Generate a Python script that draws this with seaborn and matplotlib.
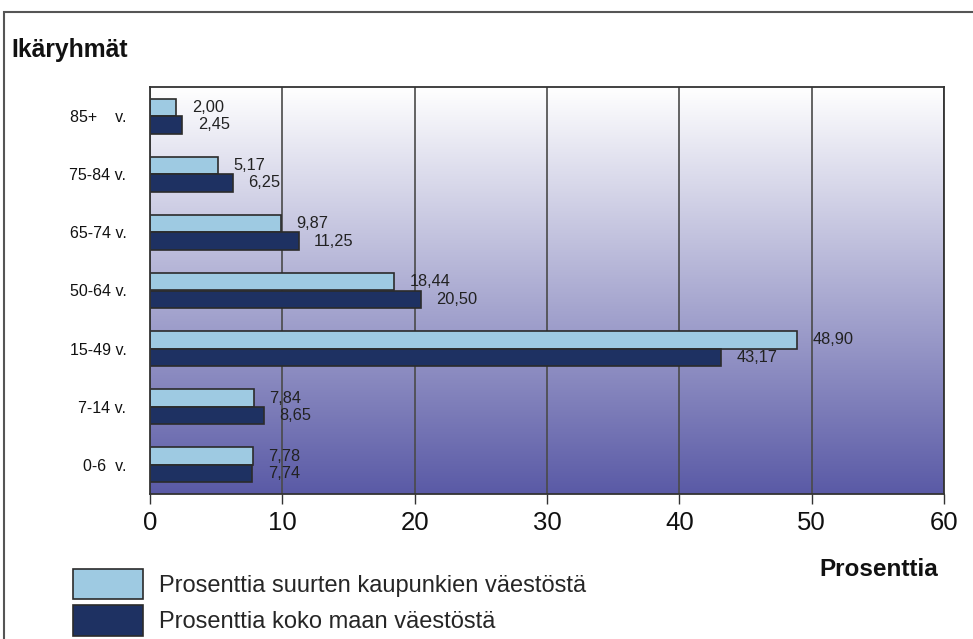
import numpy as np
import pandas as pd
import matplotlib
matplotlib.use("Agg")
import matplotlib.pyplot as plt
import seaborn as sns
from matplotlib.colors import LinearSegmentedColormap
from matplotlib.patches import Patch, Rectangle

# Data
age_groups = ['85+    v.', '75-84 v.', '65-74 v.', '50-64 v.', '15-49 v.', '7-14 v.', '0-6  v.']
big_cities = [2.00, 5.17, 9.87, 18.44, 48.90, 7.84, 7.78]
whole_country = [2.45, 6.25, 11.25, 20.50, 43.17, 8.65, 7.74]
series_names = ['Prosenttia suurten kaupunkien väestöstä', 'Prosenttia koko maan väestöstä']
x_ticks = [0, 10, 20, 30, 40, 50, 60]

light_blue = '#9ecae2'
navy = '#1e3162'
edge = '#2b2b2b'

df = pd.DataFrame({
    'age': age_groups * 2,
    'value': big_cities + whole_country,
    'series': [series_names[0]] * len(age_groups) + [series_names[1]] * len(age_groups),
})

sns.set_theme(style='white')
plt.rcParams['font.family'] = ['Liberation Sans', 'DejaVu Sans']

fig = plt.figure(figsize=(9.73, 6.39), dpi=100)
ax = fig.add_axes([150 / 973, 1 - 494 / 639, 794 / 973, 407 / 639])

# gradient background inside the plot area
cmap = LinearSegmentedColormap.from_list('bg', ['#ffffff', '#5a5aa6'])
ax.imshow(np.linspace(0, 1, 256).reshape(-1, 1), cmap=cmap, extent=(0, 1, 0, 1),
          transform=ax.transAxes, origin='upper', aspect='auto', zorder=0)

sns.barplot(data=df, x='value', y='age', hue='series', order=age_groups,
            hue_order=series_names, palette=[light_blue, navy], saturation=1,
            width=0.6, orient='h', edgecolor=edge, linewidth=1.2, legend=False, ax=ax)

for cont, vals in zip(ax.containers, [big_cities, whole_country]):
    ax.bar_label(cont, labels=[f'{v:.2f}'.replace('.', ',') for v in vals],
                 padding=11, fontsize=11.8, color='#222222')

ax.set_xlim(0, 60)
ax.set_ylim(6.5, -0.5)
ax.set_xticks(x_ticks)
ax.set_xlabel('')
ax.set_ylabel('')
ax.set_axisbelow(True)
ax.xaxis.grid(True, color='#4a4a4a', linewidth=1.2)
ax.yaxis.grid(False)
for s in ax.spines.values():
    s.set_color('#333333')
    s.set_linewidth(1.3)
ax.tick_params(axis='x', which='both', bottom=True, length=7, width=1, color='#333333',
               direction='out', pad=5, labelsize=18.5, labelcolor='#111111')
ax.tick_params(axis='y', length=0, pad=17, labelsize=11.5, labelcolor='#111111')

# outer frame around the whole chart
fig.add_artist(Rectangle((4 / 973, -0.1), 1.2, 1.1 - 12 / 639,
                         transform=fig.transFigure, fill=False,
                         edgecolor='#555555', linewidth=1.5))

fig.text(11 / 973, 1 - 50 / 639, 'Ikäryhmät', fontsize=17.8, fontweight='bold',
         ha='left', va='center', color='#111111')
fig.text(938 / 973, 1 - 569 / 639, 'Prosenttia', fontsize=17.5, fontweight='bold',
         ha='right', va='center', color='#111111')

handles = [Patch(facecolor=light_blue, edgecolor=edge, linewidth=1.2),
           Patch(facecolor=navy, edgecolor=edge, linewidth=1.2)]
fig.legend(handles, series_names, loc='upper left', bbox_to_anchor=(73 / 973, 1 - 569 / 639),
           frameon=False, fontsize=17, borderpad=0, borderaxespad=0,
           handlelength=2.95, handleheight=1.6, handletextpad=0.7, labelspacing=0.25)

fig.savefig('out.png', dpi=100)
